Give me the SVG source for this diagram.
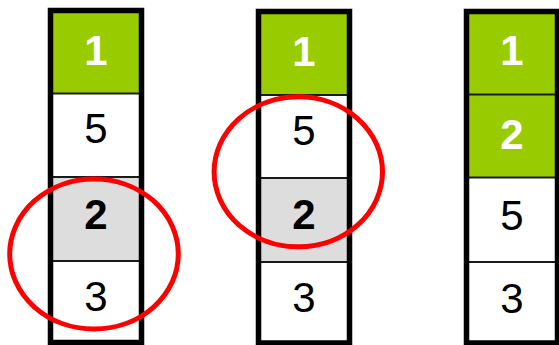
<svg xmlns="http://www.w3.org/2000/svg" width="559" height="345" viewBox="0 0 559 345">
<style>
.g{fill:#99CC00}
.w{fill:#FFFFFF}
.k{fill:#DDDDDD}
.div{stroke:#1a1a1a;stroke-width:2}
.frame{fill:none;stroke:#000;stroke-width:5.5}
.t{font-family:"Liberation Sans",Arial,sans-serif;font-size:42px;text-anchor:middle}
.tw{fill:#FFFFFF;font-weight:bold}
.tb{fill:#000;font-weight:bold}
.tn{fill:#000}
.ring{fill:none;stroke:#FF0000;stroke-width:5}
</style>
<rect width="559" height="345" fill="#FFFFFF"/>
<g id="column1">
<rect class="g" x="50" y="10" width="92" height="84"/>
<rect class="w" x="50" y="94" width="92" height="83"/>
<rect class="k" x="50" y="177" width="92" height="84"/>
<rect class="w" x="50" y="261" width="92" height="84"/>
<line class="div" x1="50" y1="93.5" x2="142" y2="93.5"/>
<line class="div" x1="50" y1="177" x2="142" y2="177"/>
<line class="div" x1="50" y1="261" x2="142" y2="261"/>
<rect class="frame" x="50.5" y="10.5" width="91" height="332"/>
<text class="t tw" x="96" y="65">1</text>
<text class="t tn" x="96" y="143">5</text>
<text class="t tb" x="96" y="229">2</text>
<text class="t tn" x="96" y="311">3</text>
</g>
<g id="column2">
<rect class="g" x="258" y="11" width="92" height="84"/>
<rect class="w" x="258" y="95" width="92" height="83"/>
<rect class="k" x="258" y="178" width="92" height="84"/>
<rect class="w" x="258" y="262" width="92" height="83"/>
<line class="div" x1="258" y1="95" x2="350" y2="95"/>
<line class="div" x1="258" y1="178" x2="350" y2="178"/>
<line class="div" x1="258" y1="262" x2="350" y2="262"/>
<rect class="frame" x="258.5" y="11.5" width="91" height="331.5"/>
<text class="t tw" x="304" y="66">1</text>
<text class="t tn" x="304" y="145">5</text>
<text class="t tb" x="304" y="229">2</text>
<text class="t tn" x="304" y="312">3</text>
</g>
<g id="column3">
<rect class="g" x="466" y="11" width="92" height="84"/>
<rect class="g" x="466" y="95" width="92" height="82"/>
<rect class="w" x="466" y="177" width="92" height="85"/>
<rect class="w" x="466" y="262" width="92" height="83"/>
<line class="div" x1="466" y1="94.5" x2="558" y2="94.5"/>
<line class="div" x1="466" y1="177.5" x2="558" y2="177.5"/>
<line class="div" x1="466" y1="262" x2="558" y2="262"/>
<rect class="frame" x="466.5" y="11.5" width="91" height="331.5"/>
<text class="t tw" x="512" y="65">1</text>
<text class="t tw" x="512" y="149">2</text>
<text class="t tn" x="512" y="230">5</text>
<text class="t tn" x="512" y="313">3</text>
</g>
<g id="connectors">
<ellipse id="ring1" class="ring" cx="94" cy="254" rx="84.3" ry="75"/>
<ellipse id="ring2" class="ring" cx="298.3" cy="171.8" rx="84.2" ry="75"/>
</g>
</svg>
